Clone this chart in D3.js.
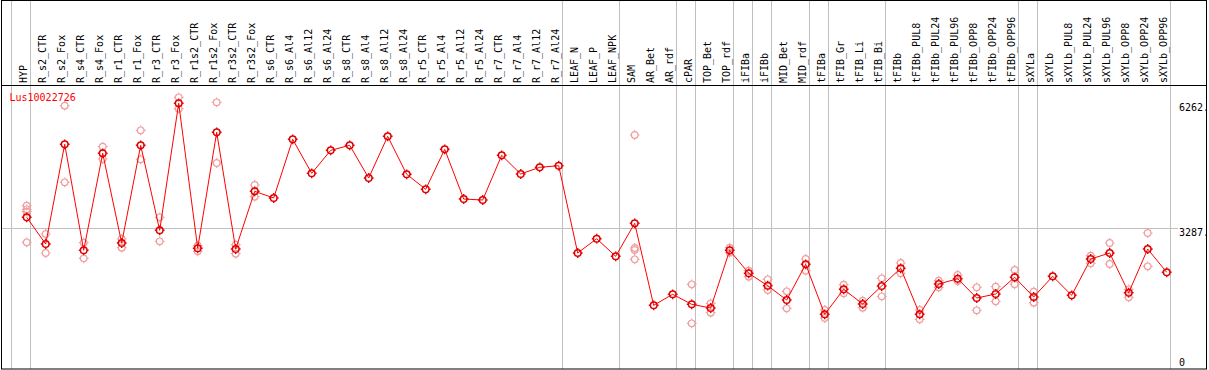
<!DOCTYPE html>
<html><head><meta charset="utf-8">
<script src="https://cdn.jsdelivr.net/npm/d3@7"></script>
<style>
body{margin:0;background:#fff}
svg{display:block}
text{font-family:"DejaVu Sans Mono",monospace;font-size:10px}
</style>
</head><body>
<svg id="c" width="1209" height="370"></svg>
<script>
const categories = ["HYP","R_s2_CTR","R_s2_Fox","R_s4_CTR","R_s4_Fox","R_r1_CTR","R_r1_Fox","R_r3_CTR","R_r3_Fox","R_r1s2_CTR","R_r1s2_Fox","R_r3s2_CTR","R_r3s2_Fox","R_s6_CTR","R_s6_Al4","R_s6_Al12","R_s6_Al24","R_s8_CTR","R_s8_Al4","R_s8_Al12","R_s8_Al24","R_r5_CTR","R_r5_Al4","R_r5_Al12","R_r5_Al24","R_r7_CTR","R_r7_Al4","R_r7_Al12","R_r7_Al24","LEAF_N","LEAF_P","LEAF_NPK","SAM","AR_Bet","AR_rdf","cPAR","TOP_Bet","TOP_rdf","iFIBa","iFIBb","MID_Bet","MID_rdf","tFIBa","tFIB_Gr","tFIB_Li","tFIB_Bi","tFIBb","tFIBb_PUL8","tFIBb_PUL24","tFIBb_PUL96","tFIBb_OPP8","tFIBb_OPP24","tFIBb_OPP96","sXYLa","sXYLb","sXYLb_PUL8","sXYLb_PUL24","sXYLb_PUL96","sXYLb_OPP8","sXYLb_OPP24","sXYLb_OPP96"];
const groupSizes = [1,28,3,3,1,2,1,1,2,1,3,7,1,7];
const means = [3549,2913,5286,2763,5072,2937,5262,3239,6262,2811,5572,2794,4167,4008,5405,4596,5143,5262,4484,5476,4572,4215,5167,3984,3960,5024,4579,4739,4777,2699,3039,2620,3406,1454,1716,1478,1390,2763,2216,1921,1580,2430,1240,1835,1485,1914,2335,1240,1961,2087,1628,1723,2121,1652,2144,1692,2556,2699,1754,2794,2240];
const replicates = [
 [3825,3739,3682,2954],[3151,2699],[6205,4382],[2944,2573],[5229,4936],[3032,2825],[5619,4929],[3549,2977],[6405,6133],[2873,2739],[6286,4841],[2896,2682],[4317,4039],
 [],[],[],[],[],[],[],[],[],[],[],[],[],[],[],[],
 [],[],[],
 [5507,2818,2770,2549],[],[],
 [1954,1026],[1502,1278],[2825,2706],[2278,2135],[2073,1818],[1787,1383],[2556,2278],[1342,1152],[1944,1740],[1564,1397],[2097,1668],
 [2461,2216],[1342,1121],[2040,1883],[2175,2033],[1883,1335],[1897,1549],[2294,1954],
 [1778,1516],[],[],[2635,2454],[2937,2437],[1835,1645],[3175,2382],[]
];
const geneLabel = "Lus10022726";
const tickValues = [0, 3287, 6262];
const tickLabels = ["0", "3287.", "6262."];

const svg = d3.select("#c");
const frameTop = 0.5, frameBottom = 369, frameLeft = 1.5, frameRight = 1206.5, headerY = 85.5;

const x = d3.scaleBand().domain(categories).range([11.5, 1170.5]).paddingInner(0).paddingOuter(0);
const y = d3.scaleLinear().domain([0, 6262]).range([366.4, 103.3]);
const px = c => x(c) + 15.2;

// group separators
const bounds = [0]; let acc = 0;
groupSizes.forEach(s => { acc += s; bounds.push(acc); });
const step = x.step();
svg.append("g").selectAll("line").data(bounds).join("line")
  .attr("x1", b => Math.floor(11.5 + b*step) + 0.5)
  .attr("x2", b => Math.floor(11.5 + b*step) + 0.5)
  .attr("y1", 0).attr("y2", frameBottom)
  .attr("stroke", "#c0c0c0").attr("stroke-width", 1);

// horizontal grid at middle tick
svg.append("line")
  .attr("x1", frameLeft).attr("x2", 1178)
  .attr("y1", Math.round(y(3287)) + 0.5).attr("y2", Math.round(y(3287)) + 0.5)
  .attr("stroke", "#c0c0c0");

// frame
svg.append("rect").attr("x", frameLeft).attr("y", frameTop).attr("width", frameRight - frameLeft).attr("height", frameBottom - frameTop)
  .attr("fill", "none").attr("stroke", "#000");
svg.append("line").attr("x1", frameLeft).attr("x2", frameRight).attr("y1", headerY).attr("y2", headerY).attr("stroke", "#000");

// column labels
svg.append("g").selectAll("text").data(categories).join("text")
  .attr("transform", c => `translate(${x(c) + 15.5},83) rotate(-90)`)
  .attr("fill", "#000")
  .text(c => c);

// axis
const axis = d3.axisRight(y).tickValues(tickValues).tickSize(0).tickPadding(0)
  .tickFormat((d, i) => tickLabels[i]);
const ag = svg.append("g").attr("transform", "translate(1179,0)").call(axis);
ag.select(".domain").remove();
ag.selectAll("text").attr("font-family", "DejaVu Sans Mono").attr("font-size", 10).attr("fill", "#000")
  .attr("x", 0).attr("dy", d => d === 0 ? "-0.14em" : "0.73em");

// marker path
function marker(r) {
  const t = 1.6;
  return `M${r},0A${r},${r} 0 1,1 ${-r},0A${r},${r} 0 1,1 ${r},0` +
    `M0,${-r}V${-r-t}M0,${r}V${r+t}M${-r},0H${-r-t}M${r},0H${r+t}`;
}

// replicates
const repData = [];
categories.forEach((c, i) => replicates[i].forEach(v => repData.push({c, v})));
svg.append("g").selectAll("path").data(repData).join("path")
  .attr("transform", d => `translate(${px(d.c)},${y(d.v)})`)
  .attr("d", marker(3.3)).attr("fill", "none").attr("stroke", "#f0a0a0").attr("stroke-width", 1.2);

// line
const line = d3.line().x(d => px(d.c)).y(d => y(d.v));
const meanData = categories.map((c, i) => ({c, v: means[i]}));
svg.append("path").datum(meanData).attr("d", line).attr("fill", "none").attr("stroke", "#ff0000").attr("stroke-width", 1);

// means
svg.append("g").selectAll("path").data(meanData).join("path")
  .attr("transform", d => `translate(${px(d.c)},${y(d.v)})`)
  .attr("d", marker(3.3)).attr("fill", "none").attr("stroke", "#e00000").attr("stroke-width", 1.5);

// gene label
svg.append("text").attr("x", 9.5).attr("y", 101).attr("fill", "#ff0000").text(geneLabel);
</script>
</body></html>
